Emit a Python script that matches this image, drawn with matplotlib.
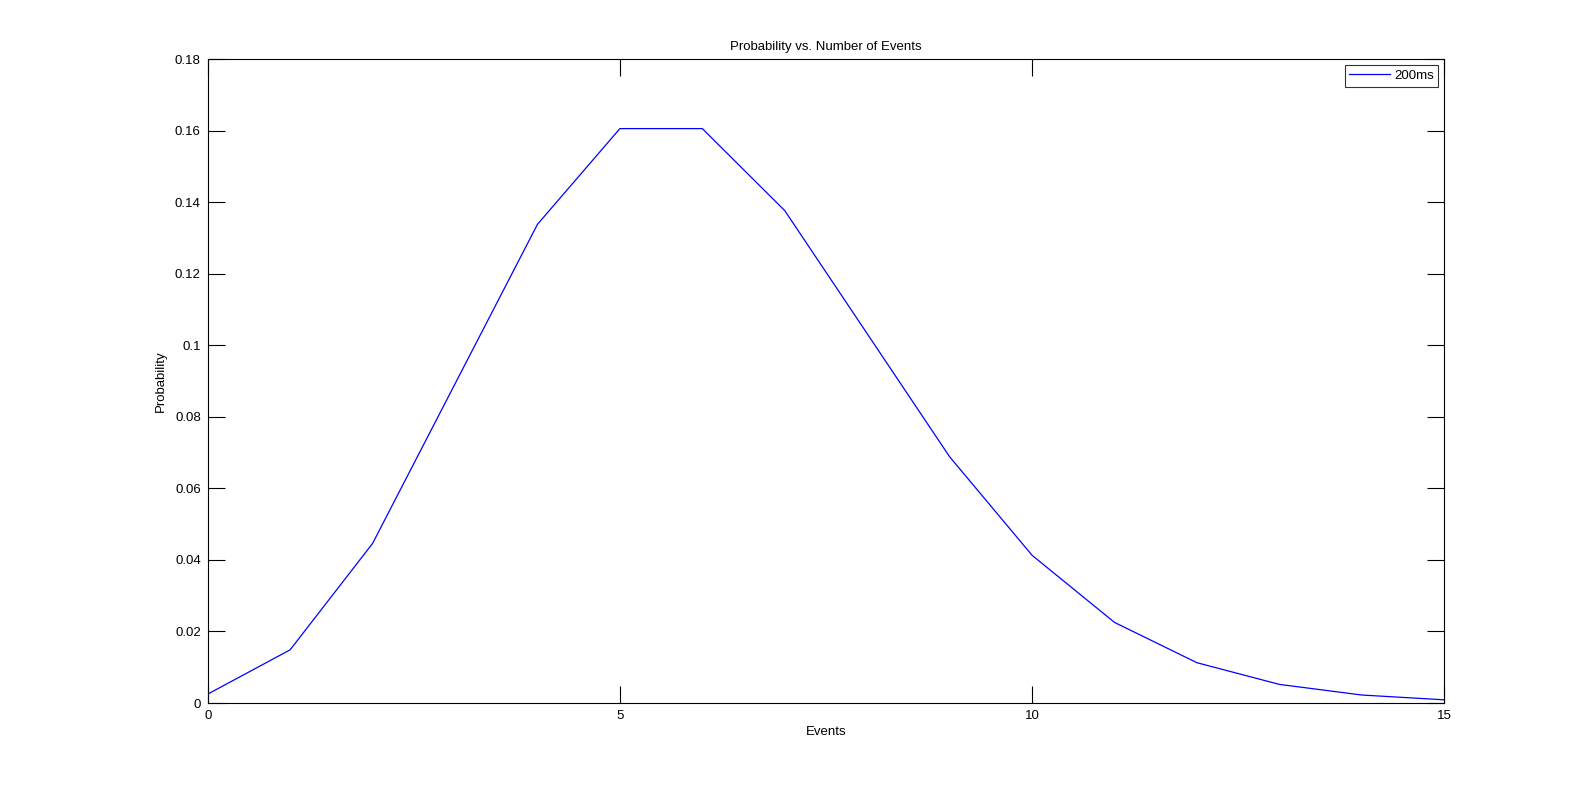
import matplotlib
matplotlib.use("Agg")
import matplotlib.pyplot as plt

events = list(range(16))
probability = [0.00248, 0.01487, 0.04462, 0.08924, 0.13385, 0.16062, 0.16062,
               0.13768, 0.10326, 0.06884, 0.04130, 0.02253, 0.01126, 0.00520,
               0.00223, 0.00089]
x_ticks = [0, 5, 10, 15]
y_ticks = [0, 0.02, 0.04, 0.06, 0.08, 0.1, 0.12, 0.14, 0.16, 0.18]
y_tick_labels = ["0", "0.02", "0.04", "0.06", "0.08", "0.1", "0.12", "0.14", "0.16", "0.18"]

plt.rcParams['font.family'] = ['Liberation Sans', 'DejaVu Sans']
W, H = 1596, 790
fig = plt.figure(figsize=(W / 100, H / 100), dpi=100)
left, right, top, bottom = 207.7, 1444.3, 59.3, 703
ax = fig.add_axes([left / W, 1 - bottom / H, (right - left) / W, (bottom - top) / H])

ax.plot(events, probability, color='#0000ff', linewidth=0.9, label='200ms')
ax.set_xlim(0, 15)
ax.set_ylim(0, 0.18)
ax.set_xticks(x_ticks)
ax.set_xticklabels([str(v) for v in x_ticks])
ax.set_yticks(y_ticks)
ax.set_yticklabels(y_tick_labels)
ax.tick_params(direction='in', length=12, width=0.8, top=True, right=True,
               labelsize=9.5, pad=5)
for s in ax.spines.values():
    s.set_linewidth(0.8)

ax.set_title('Probability vs. Number of Events', fontsize=9.5, pad=7)
ax.set_xlabel('Events', fontsize=9.5, labelpad=3)
ax.set_ylabel('Probability', fontsize=9.5, labelpad=6)

leg = ax.legend(loc='upper right', fontsize=9.5, frameon=True, fancybox=False,
                borderaxespad=0.45, handlelength=3.1, handletextpad=0.3,
                borderpad=0.35)
leg.get_frame().set_edgecolor('black')
leg.get_frame().set_linewidth(0.8)

fig.savefig('out.png', dpi=100, facecolor='white')
